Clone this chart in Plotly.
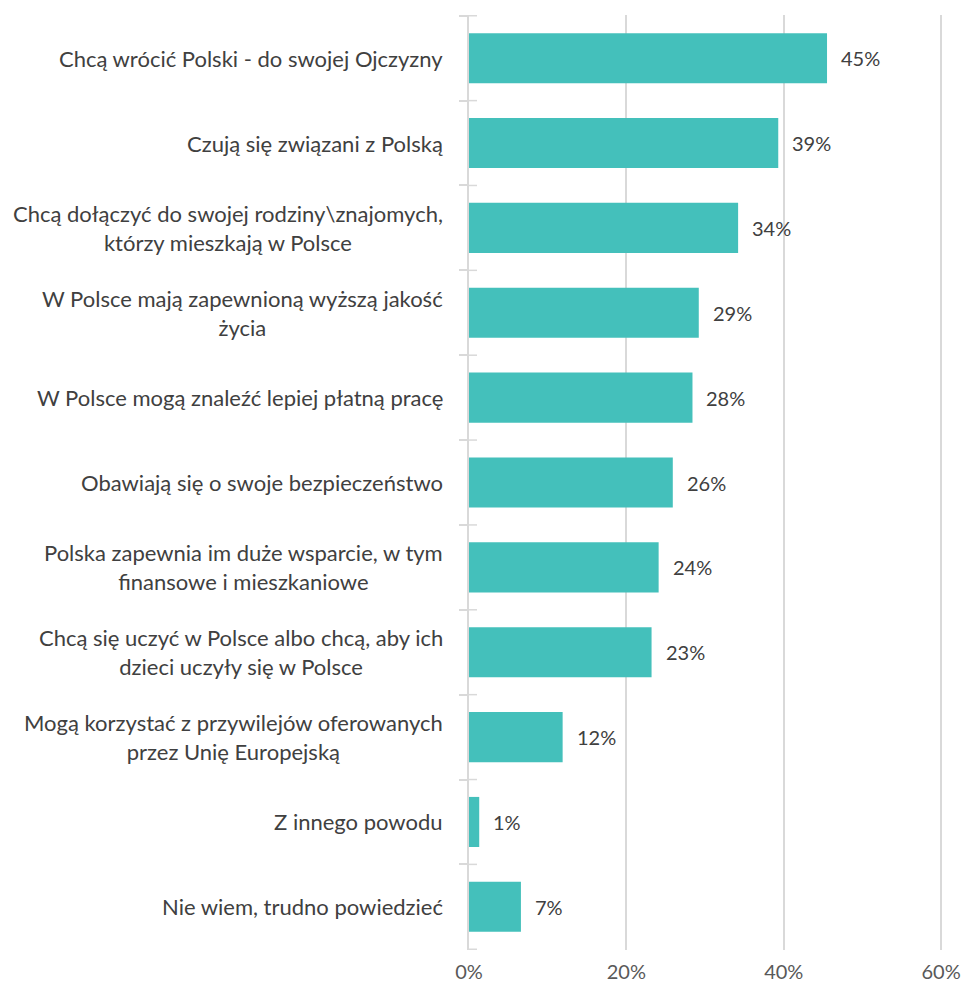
import plotly.graph_objects as go

categories = [
    "Chcą wrócić Polski - do swojej Ojczyzny",
    "Czują się związani z Polską",
    "Chcą dołączyć do swojej rodziny\\znajomych,<br>którzy mieszkają w Polsce",
    "W Polsce mają zapewnioną wyższą jakość<br>życia",
    "W Polsce mogą znaleźć lepiej płatną pracę",
    "Obawiają się o swoje bezpieczeństwo",
    "Polska zapewnia im duże wsparcie, w tym<br>finansowe i mieszkaniowe",
    "Chcą się uczyć w Polsce albo chcą, aby ich<br>dzieci uczyły się w Polsce",
    "Mogą korzystać z przywilejów oferowanych<br>przez Unię Europejską",
    "Z innego powodu",
    "Nie wiem, trudno powiedzieć",
]
values = [45.5, 39.3, 34.2, 29.2, 28.4, 25.9, 24.1, 23.2, 11.9, 1.3, 6.6]
value_labels = ["45%", "39%", "34%", "29%", "28%", "26%", "24%", "23%", "12%", "1%", "7%"]
x_ticks = [0, 20, 40, 60]
x_tick_labels = ["0%", "20%", "40%", "60%"]

FONT = "Lato, 'Open Sans', sans-serif"
TEXT = "#404040"
BAR = "#44C0BB"
GRID = "#D9D9D9"
FS = 22
PLOT_W = 961 - 469 - 12

fig = go.Figure(go.Bar(
    x=values, y=categories, orientation="h",
    marker=dict(color=BAR, line=dict(width=0)),
    width=0.59,
    hoverinfo="skip",
))

annotations = []
for v, lab, cat in zip(values, value_labels, categories):
    annotations.append(dict(x=v, y=cat, xref="x", yref="y", text=lab, showarrow=False,
                            xanchor="left", yanchor="middle", xshift=12,
                            font=dict(family=FONT, size=20, color=TEXT)))
for cat in categories:
    annotations.append(dict(x=0, y=cat, xref="paper", yref="y", text=cat, showarrow=False,
                            xanchor="right", yanchor="middle", align="center", xshift=-24,
                            font=dict(family=FONT, size=FS, color=TEXT)))

# inner half of the crossing tick marks at category boundaries
shapes = []
for i in range(len(categories) + 1):
    shapes.append(dict(type="line", xref="paper", yref="y",
                       x0=0, x1=8 / PLOT_W, y0=i - 0.5, y1=i - 0.5,
                       line=dict(color=GRID, width=1.5), layer="above"))

fig.update_layout(
    width=961, height=985,
    margin=dict(l=469, r=12, t=15, b=35, autoexpand=False),
    plot_bgcolor="white", paper_bgcolor="white",
    showlegend=False,
    annotations=annotations,
    shapes=shapes,
    xaxis=dict(range=[0, 61], tickvals=x_ticks, ticktext=x_tick_labels,
               automargin=False,
               showgrid=True, gridcolor=GRID, gridwidth=1.5,
               zeroline=False, showline=False, ticks="", ticklabelstandoff=8,
               tickfont=dict(family=FONT, size=20, color="#595959")),
    yaxis=dict(type="category", autorange="reversed", automargin=False,
               showticklabels=False, showgrid=False, zeroline=False,
               showline=True, linecolor=GRID, linewidth=1.5,
               ticks="outside", tickson="boundaries", ticklen=8,
               tickcolor=GRID, tickwidth=1.5),
)

fig.write_html("out.html")
